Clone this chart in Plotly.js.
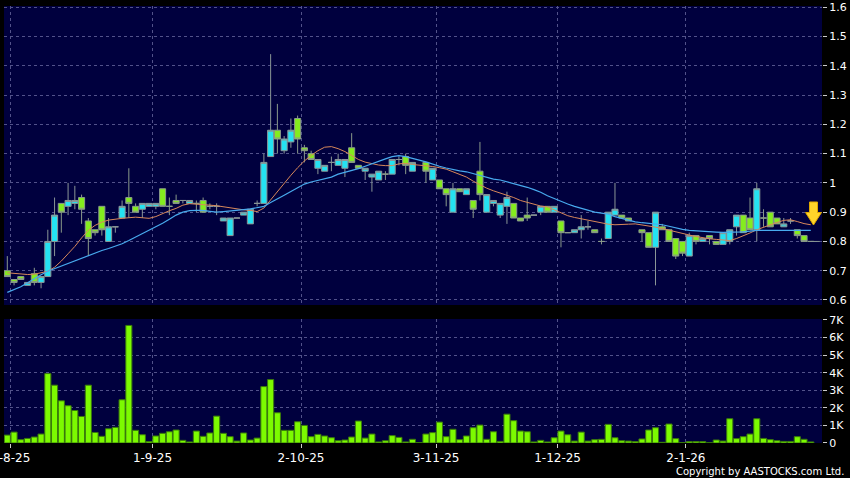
<!DOCTYPE html>
<html><head><meta charset="utf-8">
<script src="https://cdn.plot.ly/plotly-3.0.1.min.js"></script>
<style>html,body{margin:0;padding:0;background:#000;}#chart{width:850px;height:478px;}</style>
</head><body><div id="chart"></div>
<script>
const monthLabels = ['1-8-25','1-9-25','2-10-25','3-11-25','1-12-25','2-1-26'];
const monthStart = [0,21,43,63,81,100];

const openP = [.70,.67,.68,.65,.69,.66,.68,.80,.93,.92, .93,.95,.87,.84,.92,.80,.85,.88,.95,.92,
 .91,.92,.92,.98,.92,.94,.94,.93,.93,.94, .92,.92,.87,.82,.88,.89,.86,.93,.93,1.09,
 1.18,1.11,1.14,1.22,1.12,1.10,1.05,1.04,1.07,1.06, 1.05,1.12,1.06,1.04,1.02,1.01,1.03,1.03,1.08,1.09,
 1.04,null,1.07,1.01,1.01,.98,.90,.98,.96,.94, 1.04,.90,.93,.89,.92,.93,.88,.89,.89,.90,
 .92,.90,.87,.83,.83,.84,.85,.84,.80,.81, .89,.89,.88,null,.84,.83,.78,.85,.84,.81,
 .80,.75,.82,.80,.82,.80,.79,.80,.85,.89, .88,.84,.88,.90,.88,.85,.87,.84,.82,.80];
const highP = [.75,.67,.68,.66,.71,.68,.84,.95,.93,1.00, .99,.96,.88,.84,.92,.88,.85,.94,1.05,.93,
 .93,.93,.93,.98,.95,.96,.94,.94,.94,.95, .93,.93,.88,.88,.88,.90,.91,.94,1.10,1.44,
 1.27,1.16,1.22,1.23,1.13,1.11,1.08,1.06,1.09,1.10, 1.08,1.17,1.06,1.05,1.03,1.04,1.04,1.08,1.09,1.10,
 1.07,null,1.07,1.05,1.01,.98,1.00,.98,.98,.94, 1.14,.96,.94,.93,.97,.93,.88,.95,.89,.92,
 .92,.92,.87,.83,.84,.89,.87,.84,.81,.90, 1.00,.89,.88,null,.84,.83,.90,.86,.84,.81,
 .80,.83,.82,.81,.82,.80,.83,.84,.89,.89, .95,1.00,.91,.90,.88,.88,.88,.84,.82,.80];
const lowP = [.68,.65,.67,.65,.65,.64,.68,.75,.83,.89, .91,.86,.75,.82,.82,.80,.83,.88,.88,.90,
 .88,.92,.91,.92,.89,.93,.93,.93,.90,.90, .91,.89,.87,.82,.88,.89,.86,.92,.93,1.09,
 1.10,1.10,1.12,1.10,1.07,1.08,1.03,1.04,1.04,1.06, 1.02,1.07,1.05,1.01,.97,1.01,1.01,1.03,1.06,1.03,
 1.04,null,1.00,1.01,.98,.92,.90,.97,.96,.88, .94,.90,.92,.88,.86,.88,.87,.87,.89,.89,
 .90,.90,.78,.83,.83,.81,.84,.83,.79,.81, .89,.88,.87,null,.80,.78,.65,.84,.80,.74,
 .75,.75,.79,.80,.79,.79,.79,.79,.82,.83, .84,.80,.85,.85,.86,.85,.86,.81,.80,.80];
const closeP = [.68,.66,.67,.66,.66,.68,.80,.89,.90,.94, .94,.91,.81,.83,.84,.85,.85,.92,.93,.90,
 .93,.93,.93,.92,.92,.93,.94,.94,.93,.90, .92,.92,.88,.88,.88,.90,.91,.93,1.07,1.18,
 1.15,1.15,1.18,1.15,1.11,1.08,1.08,1.06,1.07,1.08, 1.08,1.07,1.05,1.05,1.03,1.04,1.03,1.08,1.08,1.06,
 1.07,null,1.04,1.05,.98,.96,.98,.97,.98,.91, .96,.96,.94,.93,.95,.88,.87,.88,.89,.92,
 .90,.92,.83,.83,.84,.85,.85,.83,.80,.90, .91,.88,.87,null,.83,.78,.90,.84,.80,.75,
 .76,.82,.80,.81,.81,.79,.83,.84,.89,.83, .84,.98,.88,.85,.86,.86,.87,.82,.80,.80];

const maShort = [.693,.691,.689,.687,.688,.692,.698,.712,.733,.758, .783,.812,.838,.855,.866,.873,.877,.879,.881,.883,
 .881,.879,.885,.896,.905,.913,.924,.929,.928,.926, .924,.922,.918,.914,.910,.908,.906,.902,.914,.943,
 .970,.998,1.026,1.052,1.075,1.094,1.110,1.122,1.124,1.117, 1.107,1.094,1.080,1.071,1.066,1.061,1.059,1.059,1.065,1.067,
 1.063,1.061,1.058,1.056,1.052,1.047,1.038,1.028,1.020,1.006, .993,.982,.973,.966,.958,.950,.940,.933,.926,.921,
 .918,.908,.897,.888,.882,.877,.872,.867,.863,.859, .857,.857,.859,.860,.857,.853,.849,.844,.838,.832,
 .827,.822,.817,.812,.809,.807,.805,.803,.810,.819, .829,.840,.849,.857,.865,.872,.874,.868,.861,.857];
const maLong = [.626,.636,.645,.659,.673,.686,.698,.707,.716,.725, .733,.743,.753,.761,.769,.776,.784,.792,.803,.815,
 .826,.837,.849,.862,.876,.890,.900,.905,.906,.906, .903,.900,.902,.905,.907,.909,.911,.915,.920,.933,
 .947,.958,.971,.984,.996,1.003,1.008,1.013,1.020,1.030, 1.036,1.043,1.049,1.057,1.066,1.074,1.082,1.090,1.093,1.090,
 1.083,1.078,1.072,1.064,1.057,1.051,1.045,1.041,1.038,1.032, 1.024,1.018,1.013,1.010,1.004,.998,.992,.985,.977,.968,
 .956,.946,.936,.928,.920,.914,.907,.900,.897,.893, .885,.879,.872,.867,.864,.862,.859,.857,.852,.846,
 .841,.838,.836,.835,.834,.832,.831,.831,.831,.833, .835,.838,.838,.838,.839,.840,.840,.839,.838,.838];

const volK = [.45,.62,.19,.26,.34,.51,3.95,3.29,2.40,2.12, 1.85,1.51,3.29,.60,.38,.81,.89,2.46,6.69,.72,
 .47,.08,.40,.55,.64,.74,.15,.06,.68,.38, .57,1.53,.55,.36,.11,.57,.17,.28,3.21,3.61,
 1.72,.72,.72,1.21,1.00,.36,.49,.40,.30,.13, .17,.34,1.25,.28,.51,.06,.13,.42,.32,.06,
 .21,.02,.51,.59,1.19,.36,.78,.19,.40,.87, 1.02,.21,.64,.09,1.64,1.27,.68,.64,.06,.15,
 .06,.30,.68,.47,.11,.62,.11,.19,.21,1.06, .30,.13,.11,.08,.23,.74,.87,.04,1.08,.25,
 .02,.08,.08,.08,.01,.17,.11,1.38,.25,.36, .51,1.38,.26,.19,.13,.09,.09,.36,.21,.06];

const priceTicks = [0.6,0.7,0.8,0.9,1.0,1.1,1.2,1.3,1.4,1.5,1.6];
const priceTickText = ['0.6','0.7','0.8','0.9','1','1.1','1.2','1.3','1.4','1.5','1.6'];
const volTicks = [0,1,2,3,4,5,6,7];
const volTickText = ['0','1K','2K','3K','4K','5K','6K','7K'];

const idx = openP.map((_, i) => i);
const lastIdx = idx[idx.length - 1];
const lastClose = closeP[closeP.length - 1];

const GRID = '#52528a';
const XR = [-0.49, 120.66];
const tickPos = monthStart.map(i => i + 0.5);

const traces = [
  {type:'candlestick', x: idx, open: openP, high: highP, low: lowP, close: closeP,
   xaxis:'x2', yaxis:'y2', whiskerwidth:0,
   increasing:{line:{color:'#8a9696', width:1}, fillcolor:'#24e2f2'},
   decreasing:{line:{color:'#8a9a8a', width:1}, fillcolor:'#84ec1e'},
   hoverinfo:'skip'},
  {type:'scatter', mode:'lines', x: idx, y: maShort, xaxis:'x2', yaxis:'y2',
   line:{color:'#d8885a', width:1}, hoverinfo:'skip'},
  {type:'scatter', mode:'lines', x: idx, y: maLong, xaxis:'x2', yaxis:'y2',
   line:{color:'#48aaee', width:1.2}, hoverinfo:'skip'},
  {type:'bar', x: idx, y: volK, xaxis:'x', yaxis:'y',
   marker:{color:'#7cfa00', line:{color:'#3a7a0c', width:1}}, hoverinfo:'skip'}
];

function px(x){ return (x - 4) / 818; }
function py(y){ return (443 - y) / 437; }
const arrowPts = [[809.5,202],[817.5,202],[817.5,212.5],[821.5,212.5],[813.5,225],[805.5,212.5],[809.5,212.5]];
const arrowPath = 'M' + arrowPts.map(p => px(p[0]).toFixed(5) + ',' + py(p[1]).toFixed(5)).join(' L') + ' Z';

const axisCommonX = {
  range: XR, tickmode:'array', tickvals: tickPos, ticktext: monthLabels,
  showgrid:true, gridcolor:GRID, griddash:'3px,3px', gridwidth:1,
  zeroline:false, showline:false, rangeslider:{visible:false}, fixedrange:true,
  ticklabeloverflow:'allow'
};

const layout = {
  width:850, height:478,
  paper_bgcolor:'#000000', plot_bgcolor:'#00003e',
  margin:{l:4, r:28, t:6, b:35, pad:0},
  showlegend:false, boxgap:0.1, boxgroupgap:0, bargap:0.1,
  font:{family:'DejaVu Sans', size:11, color:'#ffffff'},
  xaxis: Object.assign({}, axisCommonX, {anchor:'y', domain:[0,1], ticks:'outside', ticklen:4,
    tickcolor:'#cccccc', tickfont:{size:12, color:'#ffffff'}}),
  xaxis2: Object.assign({}, axisCommonX, {anchor:'y2', domain:[0,1], matches:'x', showticklabels:false, ticks:''}),
  yaxis: {domain:[0,0.2838], range:[0,7.057], side:'right', tickmode:'array', tickvals: volTicks, ticktext: volTickText,
    showgrid:true, gridcolor:GRID, griddash:'3px,3px', zeroline:false, ticks:'outside', ticklen:4, tickcolor:'#cccccc',
    tickfont:{size:11}, fixedrange:true},
  yaxis2: {domain:[0.3158,1], range:[0.5829,1.6044], side:'right', tickmode:'array', tickvals: priceTicks, ticktext: priceTickText,
    showgrid:true, gridcolor:GRID, griddash:'3px,3px', zeroline:false, ticks:'outside', ticklen:4, tickcolor:'#cccccc',
    tickfont:{size:11}, fixedrange:true},
  shapes:[
    {type:'line', xref:'x2', yref:'y2', x0:lastIdx, x1:lastIdx + 1.35, y0:lastClose, y1:lastClose,
     line:{color:'#8a9696', width:1}},
    {type:'path', xref:'paper', yref:'paper', path: arrowPath, fillcolor:'#ffd42a', line:{color:'#e0a800', width:1}}
  ],
  annotations:[
    {text:'Copyright by AASTOCKS.com Ltd.', xref:'paper', yref:'paper', x:px(846), y:py(471),
     xanchor:'right', yanchor:'middle', showarrow:false, font:{family:'DejaVu Sans', size:10, color:'#ffffff'}}
  ]
};

Plotly.newPlot('chart', traces, layout, {displayModeBar:false, staticPlot:true});
</script></body></html>
